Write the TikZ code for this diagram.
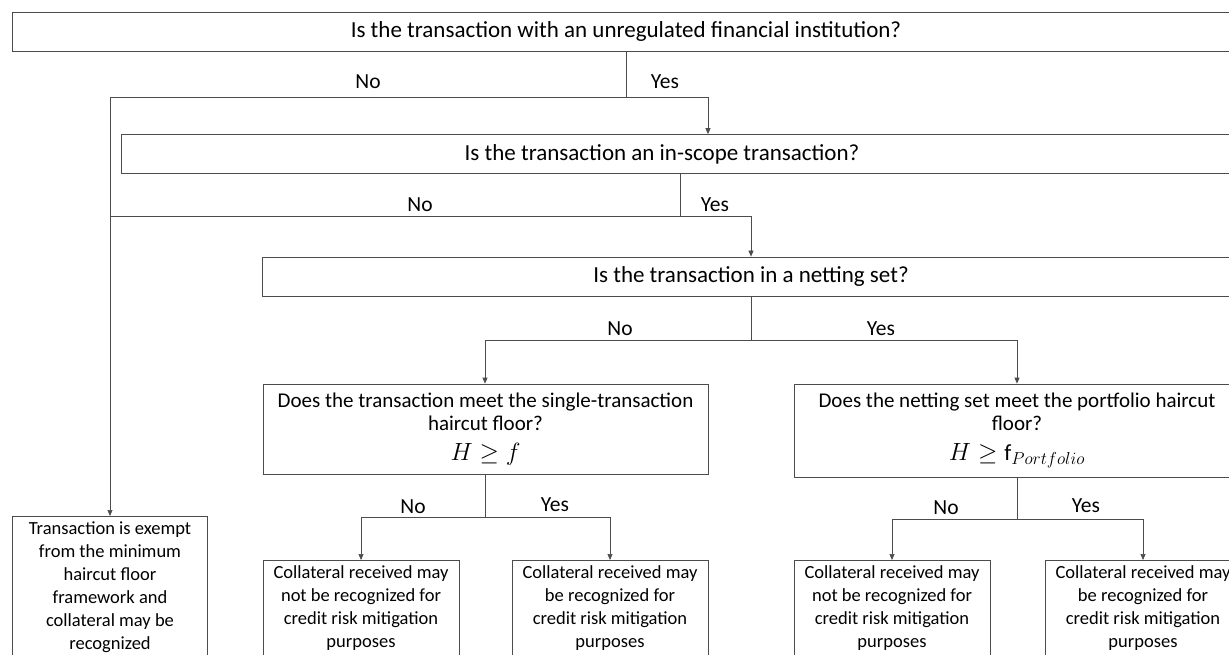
\documentclass[tikz,border=0pt]{standalone}
\usepackage{fontspec}
\setmainfont{Carlito}
\usetikzlibrary{arrows.meta}
\tikzset{
  box/.style={draw=black!70, line width=0.7pt, inner sep=0pt, align=center},
  qbox/.style={box, minimum height=39pt, font=\fontsize{23}{26}\selectfont},
  dbox/.style={box, font=\fontsize{21}{23}\selectfont},
  rbox/.style={box, anchor=north, minimum width=196pt, inner ysep=5pt, font=\fontsize{18.5}{23}\selectfont},
  conn/.style={draw=black!70, line width=0.7pt},
  arr/.style={conn, -{Triangle[length=6pt,width=5pt]}},
  lbl/.style={font=\fontsize{21.5}{24}\selectfont, inner sep=0pt}
}
\newcommand{\bigmath}[1]{{\fontsize{23}{24}\selectfont$#1$}}
\begin{document}
\begin{tikzpicture}[x=1pt,y=-1pt]
\useasboundingbox (0,0) rectangle (1229,655);
\clip (0,0) rectangle (1229,655);
\fill[white] (0,0) rectangle (1229,655);
% question boxes
\node[qbox, minimum width=1228pt] (q1) at (626,31.5) {Is the transaction with an unregulated financial institution?};
\node[qbox, minimum width=1119pt] (q2) at (680.5,154) {\hspace*{-37pt}Is the transaction an in-scope transaction?};
\node[qbox, minimum width=978pt] (q3) at (751,276.5) {Is the transaction in a netting set?};
\node[dbox, minimum width=445pt, minimum height=90pt] (q4) at (485.5,429) {Does the transaction meet the single-transaction\\haircut floor?\\[7pt]\bigmath{H \geq f}};
\node[dbox, minimum width=446pt, minimum height=93pt] (q5) at (1017,430.5) {Does the netting set meet the portfolio haircut\\floor?\\[7pt]\bigmath{H \geq \mathrm{f}_{Portfolio}}};
% result boxes
\node[rbox, minimum width=195.5pt] (ex) at (110,516) {Transaction is exempt\\from the minimum\\haircut floor\\framework and\\collateral may be\\recognized\\[4pt]};
\node[rbox] (c1) at (361,560) {Collateral received may\\not be recognized for\\credit risk mitigation\\purposes\\[40pt]};
\node[rbox] (c2) at (610,560) {Collateral received may\\be recognized for\\credit risk mitigation\\purposes\\[40pt]};
\node[rbox] (c3) at (892,560) {Collateral received may\\not be recognized for\\credit risk mitigation\\purposes\\[40pt]};
\node[rbox] (c4) at (1143,560) {Collateral received may\\be recognized for\\credit risk mitigation\\purposes\\[40pt]};
% junction coordinates
\coordinate (j1) at (626,97);
\coordinate (j1l) at (110,97);
\coordinate (j1r) at (708,97);
\coordinate (j2) at (680,216);
\coordinate (j2l) at (110,216);
\coordinate (j2r) at (751,216);
\coordinate (j3) at (751,340);
\coordinate (j3l) at (485,340);
\coordinate (j3r) at (1017,340);
\coordinate (j4) at (485,517);
\coordinate (j4l) at (361,517);
\coordinate (j4r) at (610,517);
\coordinate (j5) at (1017,519);
\coordinate (j5l) at (892,519);
\coordinate (j5r) at (1143,519);
% connectors
\draw[conn] (q1.south -| j1) -- (j1);
\draw[conn] (j1l) -- (j1r);
\draw[arr] (j1r) -- (q2.north -| j1r);
\draw[arr] (j1l) -- (ex.north);
\draw[conn] (q2.south -| j2) -- (j2);
\draw[conn] (j2l) -- (j2r);
\draw[arr] (j2r) -- (q3.north -| j2r);
\draw[conn] (q3.south -| j3) -- (j3);
\draw[conn] (j3l) -- (j3r);
\draw[arr] (j3l) -- (q4.north -| j3l);
\draw[arr] (j3r) -- (q5.north -| j3r);
\draw[conn] (q4.south -| j4) -- (j4);
\draw[conn] (j4l) -- (j4r);
\draw[arr] (j4l) -- (c1.north);
\draw[arr] (j4r) -- (c2.north);
\draw[conn] (q5.south -| j5) -- (j5);
\draw[conn] (j5l) -- (j5r);
\draw[arr] (j5l) -- (c3.north);
\draw[arr] (j5r) -- (c4.north);
% labels
\node[lbl] (n1) at (368,82) {No};
\node[lbl] (y1) at (665,82) {Yes};
\node[lbl] (n2) at (420,205) {No};
\node[lbl] (y2) at (715,205) {Yes};
\node[lbl] (n3) at (620,329) {No};
\node[lbl] (y3) at (881,329) {Yes};
\node[lbl] (n4) at (413,507) {No};
\node[lbl] (y4) at (555,505) {Yes};
\node[lbl] (n5) at (946,508) {No};
\node[lbl] (y5) at (1086,506) {Yes};
\end{tikzpicture}
\end{document}
